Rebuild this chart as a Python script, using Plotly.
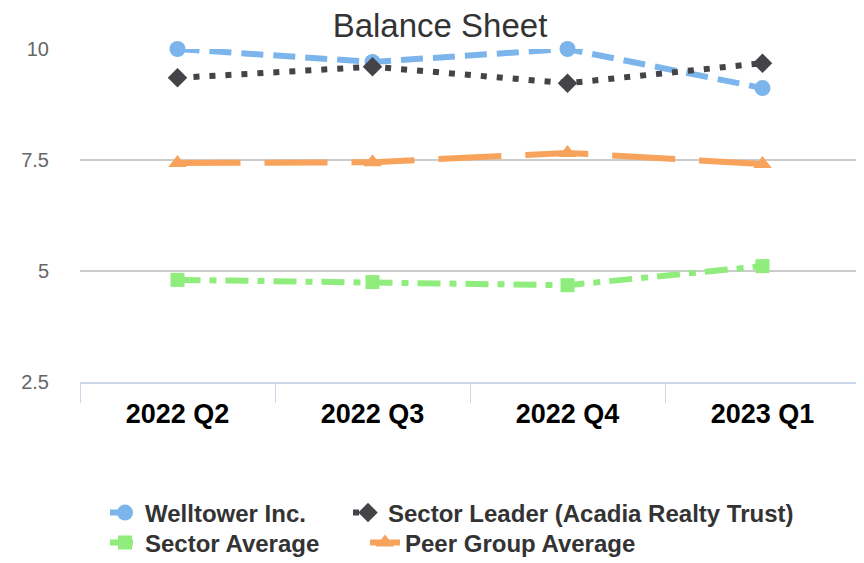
import plotly.graph_objects as go

categories = ["2022 Q2", "2022 Q3", "2022 Q4", "2023 Q1"]
welltower = [10.0, 9.71, 10.0, 9.12]
sector_leader = [9.35, 9.6, 9.23, 9.68]
sector_average = [4.8, 4.75, 4.68, 5.11]
peer_group = [7.43, 7.45, 7.66, 7.41]
y_ticks = [2.5, 5, 7.5, 10]
y_tick_text = ["2.5", "5", "7.5", "10"]

FONT = "Liberation Sans, Arial, sans-serif"

series = [
    ("Welltower Inc.", welltower, "#7cb5ec", "22px,10px", "circle", 16, "legend"),
    ("Sector Leader (Acadia Realty Trust)", sector_leader, "#434348", "6px,10px", "diamond", 15, "legend2"),
    ("Sector Average", sector_average, "#90ed7d", "23px,9px,7px,9px", "square", 14, "legend3"),
    ("Peer Group Average", peer_group, "#f7a35c", "63px,24px", "triangle-up", 16, "legend4"),
]

fig = go.Figure()
for name, vals, color, dash, sym, msize, leg in series:
    fig.add_trace(go.Scatter(
        x=categories, y=vals, name=name, mode="lines+markers",
        line=dict(color=color, width=6, dash=dash),
        marker=dict(symbol=sym, size=msize, color=color),
        cliponaxis=False, legend=leg,
    ))

W, H = 864, 563
OFF = 8  # page body margin offset
L, T = 80 - OFF, 49 - OFF
R = W - (860 - OFF)
B = H - (382 - OFF)

legend_font = dict(family=FONT, size=24, color="#333333", weight=700)
def leg(xpx, ypx):
    return dict(x=xpx / W, y=1 - (ypx - OFF) / H, xref="container", yref="container",
                xanchor="left", yanchor="middle",
                orientation="h", font=legend_font, bgcolor="rgba(0,0,0,0)",
                itemwidth=30)

fig.update_layout(
    width=W, height=H,
    margin=dict(l=L, r=R, t=T, b=B, autoexpand=False),
    paper_bgcolor="white", plot_bgcolor="white",
    title=dict(text="Balance Sheet", x=(440 - OFF) / W, xref="container", xanchor="center",
               y=1 - (25 - OFF) / H, yref="container", yanchor="middle",
               font=dict(family=FONT, size=33, color="#333333")),
    legend=leg(97, 513),
    legend2=leg(340, 513),
    legend3=leg(97, 543),
    legend4=leg(357, 543),
    xaxis=dict(type="category", range=[-0.5, 3.5], tickson="boundaries",
               ticks="outside", ticklen=19, tickcolor="#ccd6eb", tickwidth=1,
               showline=True, linecolor="#ccd6eb", linewidth=1.5,
               showgrid=False, zeroline=False, ticklabelstandoff=7,
               tickfont=dict(family=FONT, size=27, color="#000000", weight=700)),
    yaxis=dict(range=[2.5, 10], tickvals=y_ticks, ticktext=y_tick_text,
               showgrid=True, gridcolor="#cccccc", gridwidth=1.5,
               zeroline=False, showline=False, ticks="",
               ticklabelstandoff=30,
               tickfont=dict(family=FONT, size=20, color="#666666")),
    showlegend=True,
)

fig.write_html("out.html")
